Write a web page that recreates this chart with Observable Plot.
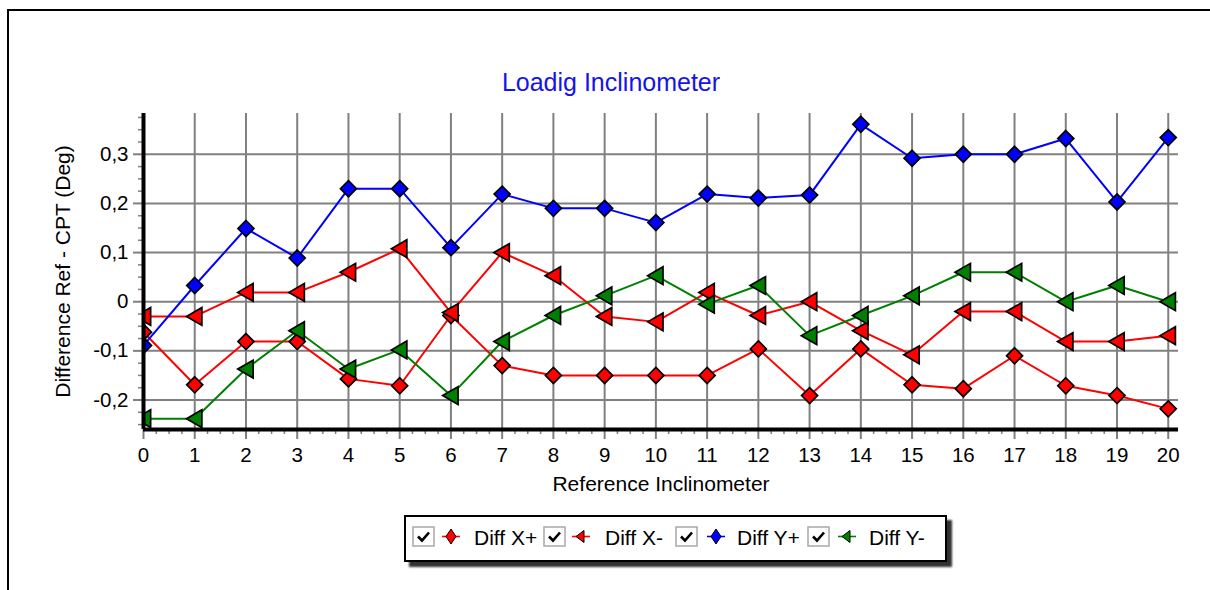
<!DOCTYPE html>
<html>
<head>
<meta charset="utf-8">
<script src="https://cdn.jsdelivr.net/npm/d3@7"></script>
<script src="https://cdn.jsdelivr.net/npm/@observablehq/plot@0.6"></script>
<style>
  body { margin: 0; background: #fff; overflow: hidden; font-family: "Liberation Sans", Arial, sans-serif; }
  #wrap { position: relative; width: 1210px; height: 590px; overflow: hidden; }
  #frame { position: absolute; left: 7px; top: 9px; width: 1300px; height: 700px; border-left: 2px solid #000; border-top: 2px solid #000; }
  #chart { position: absolute; left: 0; top: 0; }
  #legend { position: absolute; left: 404px; top: 515px; width: 543px; height: 47px; box-sizing: border-box;
            border: 2px solid #000; background: #fff; box-shadow: 5px 5px 2px #333; }
  .cb, .ic, .lt { position: absolute; }
  .lt { font-size: 21px; line-height: 21px; color: #000; white-space: nowrap; }
</style>
</head>
<body>
<div id="wrap">
  <div id="frame"></div>
  <div id="chart"></div>
  <div id="legend"></div>
</div>
<script>
// ---- data ----
const positions = [0, 1, 2, 3, 4, 5, 6, 7, 8, 9, 10, 11, 12, 13, 14, 15, 16, 17, 18, 19, 20];
const diffXPlus  = [-0.062, -0.169, -0.081, -0.081, -0.157, -0.171, -0.028, -0.130, -0.150, -0.150, -0.150, -0.150, -0.096, -0.191, -0.096, -0.169, -0.177, -0.110, -0.171, -0.191, -0.218];
const diffXMinus = [-0.030, -0.030, 0.019, 0.019, 0.060, 0.108, -0.022, 0.100, 0.053, -0.030, -0.041, 0.019, -0.028, 0.000, -0.059, -0.108, -0.020, -0.020, -0.081, -0.081, -0.069];
const diffYPlus  = [-0.089, 0.033, 0.149, 0.089, 0.230, 0.230, 0.110, 0.219, 0.190, 0.190, 0.161, 0.219, 0.211, 0.217, 0.361, 0.292, 0.300, 0.300, 0.332, 0.203, 0.334];
const diffYMinus = [-0.238, -0.238, -0.137, -0.059, -0.137, -0.098, -0.191, -0.081, -0.028, 0.012, 0.053, -0.005, 0.033, -0.069, -0.028, 0.012, 0.060, 0.060, 0.000, 0.033, 0.000];

const seriesNames = ["Diff X+", "Diff X-", "Diff Y+", "Diff Y-"];
const seriesValues = [diffXPlus, diffXMinus, diffYPlus, diffYMinus];
const xTickValues = [0, 1, 2, 3, 4, 5, 6, 7, 8, 9, 10, 11, 12, 13, 14, 15, 16, 17, 18, 19, 20];
const yTickValues = [-0.2, -0.1, 0, 0.1, 0.2, 0.3];

const titleText = "Loadig Inclinometer";
const xLabel = "Reference Inclinometer";
const yLabel = "Difference Ref - CPT (Deg)";

// ---- styles ----
const seriesColors = ["#ff0000", "#ff0000", "#0000ff", "#008000"];
const seriesSymbols = ["diamond2", "triangle", "diamond2", "triangle"];
const seriesRotate = [0, -90, 0, -90];
const seriesR = [7.2, 6.6, 7.2, 6.6];
const seriesDx = [0, 2, 0, 2];

const yMin = -0.26, yMax = 0.383, xMax = 20.2;
const fontFamily = '"Liberation Sans", Arial, sans-serif';
const gridColor = "#808080";

const xMinor = d3.range(0, 81).filter(i => i % 4 !== 0).map(i => i / 4);
const yMinor = d3.range(-10, 16).filter(i => i % 4 !== 0).map(i => i * 0.025);

const fmt = d => String(d).replace(".", ",");

const marks = [
  Plot.gridX(xTickValues, {stroke: gridColor, strokeOpacity: 1, strokeWidth: 2}),
  Plot.gridY(yTickValues, {stroke: gridColor, strokeOpacity: 1, strokeWidth: 2}),
  Plot.axisY(yMinor, {tickSize: 5, tickFormat: () => "", stroke: gridColor, strokeWidth: 1.5, label: null}),
  Plot.axisY(yTickValues, {tickSize: 10, tickPadding: 5, tickFormat: fmt, stroke: gridColor, strokeWidth: 2, fill: "#000", fontSize: 20.5, label: null}),
  Plot.axisX(xMinor, {tickSize: 5, tickFormat: () => "", stroke: gridColor, strokeWidth: 1.5, label: null}),
  Plot.axisX(xTickValues, {tickSize: 10, tickPadding: 8, tickFormat: d => String(d), stroke: gridColor, strokeWidth: 2, fill: "#000", fontSize: 20.5, label: null})
];

seriesNames.forEach((name, s) => {
  const rows = positions.map((x, i) => ({series: name, x, y: seriesValues[s][i]}));
  marks.push(Plot.line(rows, {x: "x", y: "y", stroke: seriesColors[s], strokeWidth: 2}));
  marks.push(Plot.dot(rows, {
    x: "x", y: "y", symbol: seriesSymbols[s], r: seriesR[s], rotate: seriesRotate[s], dx: seriesDx[s],
    fill: seriesColors[s], fillOpacity: 1, stroke: "#000", strokeWidth: 1.7, clip: true
  }));
});

marks.push(
  Plot.ruleX([0], {stroke: "#000", strokeWidth: 4}),
  Plot.ruleY([yMin], {stroke: "#000", strokeWidth: 4}),
  Plot.text([titleText], {frameAnchor: "top", lineAnchor: "middle", textAnchor: "middle", dy: -31, dx: -50, fontSize: 25, fill: "#1414e8"}),
  Plot.text([xLabel], {frameAnchor: "bottom", lineAnchor: "middle", textAnchor: "middle", dy: 55, fontSize: 21, fill: "#000"}),
  Plot.text([yLabel], {frameAnchor: "left", lineAnchor: "middle", textAnchor: "middle", dx: -80, rotate: -90, fontSize: 21, fill: "#000"})
);

const chart = Plot.plot({
  width: 1210,
  height: 590,
  marginLeft: 143,
  marginRight: 32,
  marginTop: 113,
  marginBottom: 161,
  x: {type: "linear", domain: [0, xMax]},
  y: {type: "linear", domain: [yMin, yMax]},
  style: {fontFamily, background: "transparent", color: "#000", overflow: "visible"},
  marks
});
document.getElementById("chart").appendChild(chart);

// ---- legend ----
const cbLeft = [6, 137, 269, 401];
const icLeft = [36, 166, 301, 432];
const txLeft = [68, 199, 331, 463];
const legend = document.getElementById("legend");
seriesNames.forEach((name, s) => {
  const c = seriesColors[s];
  const cb = document.createElement("div");
  cb.className = "cb";
  cb.style.left = cbLeft[s] + "px"; cb.style.top = "9px";
  cb.innerHTML = `<svg width="23" height="21"><rect x="1" y="1" width="21" height="19" fill="#fff" stroke="#a8a8a8" stroke-width="1.5"/><path d="M6 10.5 L10 14.5 L17 6.5" fill="none" stroke="#000" stroke-width="2.6"/></svg>`;
  legend.appendChild(cb);
  const ic = document.createElement("div");
  ic.className = "ic";
  ic.style.left = icLeft[s] + "px"; ic.style.top = "9px";
  const shape = seriesSymbols[s] === "diamond2"
    ? `<polygon points="9,3 14,10.5 9,18 4,10.5" fill="${c}" stroke="#000" stroke-width="1"/>`
    : `<polygon points="4,10.5 12,4.5 12,16.5" fill="${c}" stroke="#000" stroke-width="1"/>`;
  ic.innerHTML = `<svg width="18" height="21"><line x1="0" x2="18" y1="10.5" y2="10.5" stroke="${c}" stroke-width="1.6"/>${shape}</svg>`;
  legend.appendChild(ic);
  const t = document.createElement("div");
  t.className = "lt";
  t.style.left = txLeft[s] + "px"; t.style.top = "10px";
  t.textContent = name;
  legend.appendChild(t);
});
</script>
</body>
</html>
